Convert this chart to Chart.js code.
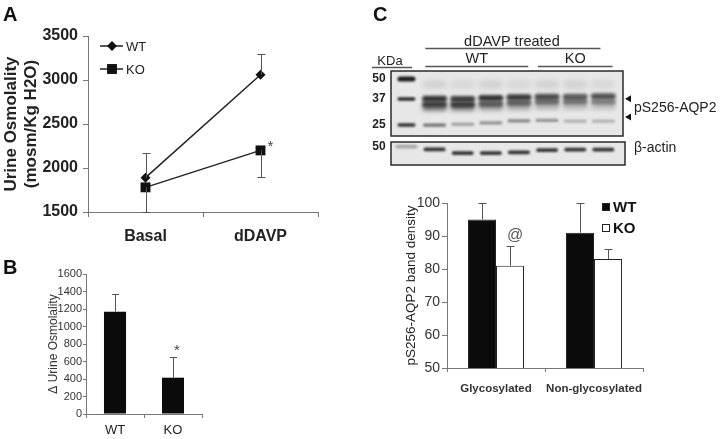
<!DOCTYPE html>
<html>
<head>
<meta charset="utf-8">
<title>Urine osmolality and pS256-AQP2</title>
<script src="https://cdn.jsdelivr.net/npm/chart.js@4.4.1/dist/chart.umd.min.js"></script>
<style>
  html, body { margin: 0; padding: 0; background: #fff; }
  body { width: 720px; height: 439px; position: relative; overflow: hidden; font-family: "Liberation Sans", Arial, sans-serif; }
  canvas { position: absolute; left: 0; top: 0; }
  .tag { position: absolute; font-weight: bold; font-size: 20px; line-height: 20px; color: #111; }
</style>
</head>
<body>
<canvas id="chartA" width="720" height="439"></canvas>
<canvas id="chartB" width="720" height="439"></canvas>
<canvas id="chartC" width="720" height="439"></canvas>
<canvas id="blot" width="720" height="439"></canvas>
<canvas id="actin" width="720" height="439"></canvas>
<div class="tag" style="left:3px;top:4px">A</div>
<div class="tag" style="left:3px;top:257px">B</div>
<div class="tag" style="left:373px;top:4px">C</div>
<script>
// ---- panel A: urine osmolality
const osmoCategories = ["Basal", "dDAVP"];
const osmoWT = [1890, 3060];
const osmoWTErr = [280, 240];
const osmoKO = [1780, 2200];
const osmoKOErr = [280, 300];
const osmoKOMarks = ["", "*"];
const osmoTicks = [1500, 2000, 2500, 3000, 3500];

// ---- panel B: delta urine osmolality
const deltaCategories = ["WT", "KO"];
const deltaValues = [1170, 415];
const deltaErr = [200, 240];
const deltaMarks = ["", "*"];
const deltaTicks = [0, 200, 400, 600, 800, 1000, 1200, 1400, 1600];

// ---- panel C: band density
const densityCategories = ["Glycosylated", "Non-glycosylated"];
const densityWT = [95, 91];
const densityWTErr = [5, 9];
const densityKO = [81, 83];
const densityKOErr = [6, 3];
const densityKOMarks = ["@", ""];
const densityTicks = [50, 60, 70, 80, 90, 100];

// ---- panel C: blot (lane 0 = ladder, lanes 1-4 WT, 5-7 KO)
const sampleLanes = [1, 2, 3, 4, 5, 6, 7];
const markerKDa = [50, 37, 25];
const markerDensity = [0.95, 0.9, 0.85];
const smearKDa = [46, 46, 46, 46, 46, 46, 46];
const smearDensity = [0.1, 0.08, 0.1, 0.08, 0.1, 0.1, 0.08];
const glycoKDa = [37.2, 37, 37.5, 38, 38.3, 38.3, 38.5];
const glycoDensity = [0.85, 0.8, 0.85, 0.82, 0.72, 0.65, 0.7];
const nonGlycoKDa = [34.2, 34, 34.5, 35, 35.5, 35.5, 35.5];
const nonGlycoDensity = [0.75, 0.78, 0.62, 0.6, 0.55, 0.5, 0.45];
const lowerKDa = [32.3, 32.3, 32.5, 32.8, 33, 33, 33];
const lowerDensity = [0.5, 0.45, 0.35, 0.3, 0.25, 0.22, 0.2];
const band25KDa = [25, 25.3, 25.8, 26.6, 26.8, 26.5, 26.5];
const band25Density = [0.55, 0.35, 0.4, 0.45, 0.4, 0.25, 0.25];
const arrowKDa = [37.2, 28.2];
const actinLanes = [0, 1, 2, 3, 4, 5, 6, 7];
const actinLevel = [0.8, 0.68, 0.52, 0.52, 0.55, 0.65, 0.67, 0.67];
const actinDensity = [0.3, 0.85, 0.85, 0.85, 0.85, 0.85, 0.85, 0.85];

const FONT = '"Liberation Sans", Arial, sans-serif';
Chart.defaults.font.family = FONT;
Chart.defaults.color = "#222";
Chart.defaults.animation = false;
Chart.defaults.responsive = false;
Chart.defaults.devicePixelRatio = 1;
Chart.defaults.events = [];
Chart.defaults.plugins.legend.display = false;
Chart.defaults.plugins.tooltip.enabled = false;

const plainNumber = (v) => String(v);

// vertical error bars + significance marks, read from dataset fields
const errorBars = {
  id: "errorBars",
  afterDatasetsDraw(chart) {
    const ctx = chart.ctx;
    const y = chart.scales.y;
    chart.data.datasets.forEach((ds, di) => {
      if (!ds.errors) return;
      const meta = chart.getDatasetMeta(di);
      meta.data.forEach((el, i) => {
        const v = ds.data[i];
        const end = ds.errDown ? v - ds.errors[i] : v + ds.errors[i];
        const yEnd = Math.round(y.getPixelForValue(end)) + 0.5;
        const x = Math.round(el.x) + 0.5;
        const cap = ds.capWidth / 2;
        ctx.save();
        ctx.strokeStyle = ds.errColor;
        ctx.lineWidth = 1;
        ctx.beginPath();
        ctx.moveTo(x, el.y);
        ctx.lineTo(x, yEnd);
        ctx.moveTo(x - cap, yEnd);
        ctx.lineTo(x + cap, yEnd);
        ctx.stroke();
        if (ds.marks && ds.marks[i]) {
          const ax = el.x + ds.markDx;
          const ay = (ds.markAt === "point" ? el.y : yEnd) + ds.markDy;
          ctx.fillStyle = ds.markColor;
          ctx.font = ds.markFont;
          ctx.textAlign = "center";
          ctx.textBaseline = "middle";
          ctx.fillText(ds.marks[i], ax, ay);
        }
        ctx.restore();
      });
    });
  }
};

const osmoLegend = {
  id: "osmoLegend",
  afterDraw(chart) {
    const ctx = chart.ctx;
    const a = chart.chartArea;
    chart.data.datasets.forEach((ds, i) => {
      const y = a.top + 10 + i * 23;
      const x0 = a.left + 12;
      ctx.save();
      ctx.strokeStyle = ds.borderColor;
      ctx.lineWidth = 1.5;
      ctx.beginPath();
      ctx.moveTo(x0, y);
      ctx.lineTo(x0 + 23, y);
      ctx.stroke();
      ctx.fillStyle = ds.pointBackgroundColor;
      Chart.helpers.drawPoint(ctx, { pointStyle: ds.pointStyle, radius: ds.pointRadius, borderWidth: 0, rotation: 0 }, x0 + 12, y);
      ctx.fillStyle = "#222";
      ctx.font = "13px " + FONT;
      ctx.textAlign = "left";
      ctx.textBaseline = "middle";
      ctx.fillText(ds.label, x0 + 26, y + 1);
      ctx.restore();
    });
  }
};

const densityLegend = {
  id: "densityLegend",
  afterDraw(chart) {
    const ctx = chart.ctx;
    const a = chart.chartArea;
    chart.data.datasets.forEach((ds, i) => {
      const y = a.top + 4 + i * 21;
      const x = a.right - 41;
      ctx.save();
      ctx.fillStyle = ds.backgroundColor;
      ctx.strokeStyle = "#222";
      ctx.lineWidth = 1;
      ctx.fillRect(x, y - 4, 8, 8);
      ctx.strokeRect(x + 0.5, y - 3.5, 7, 7);
      ctx.fillStyle = "#111";
      ctx.font = "bold 15px " + FONT;
      ctx.textAlign = "left";
      ctx.textBaseline = "middle";
      ctx.fillText(ds.label, x + 11, y + 1);
      ctx.restore();
    });
  }
};

function fixWidth(w) { return function (s) { s.width = w; }; }
function fixHeight(h) { return function (s) { s.height = h; }; }

// ---------------- chart A
new Chart(document.getElementById("chartA"), {
  type: "line",
  data: {
    labels: osmoCategories,
    datasets: [
      {
        label: "WT", data: osmoWT, borderColor: "#222", borderWidth: 1.5,
        pointStyle: "rectRot", pointRadius: 5, pointBackgroundColor: "#111", pointBorderWidth: 0,
        errors: osmoWTErr, errDown: false, capWidth: 8, errColor: "#555"
      },
      {
        label: "KO", data: osmoKO, borderColor: "#222", borderWidth: 1.5,
        pointStyle: "rect", pointRadius: 7, pointBackgroundColor: "#111", pointBorderWidth: 0,
        errors: osmoKOErr, errDown: true, capWidth: 8, errColor: "#555",
        marks: osmoKOMarks, markAt: "point", markDx: 10, markDy: -4, markColor: "#444", markFont: "15px " + FONT
      }
    ]
  },
  options: {
    layout: { padding: { left: 1, right: 402, top: 36, bottom: 187 } },
    scales: {
      x: {
        offset: true,
        afterFit: fixHeight(40),
        grid: { offset: true, drawOnChartArea: false, tickLength: 5, color: "#777" },
        border: { color: "#777" },
        ticks: { padding: 10, font: { size: 16, weight: "bold" }, color: "#222" }
      },
      y: {
        min: osmoTicks[0], max: osmoTicks[osmoTicks.length - 1],
        afterFit: fixWidth(87),
        grid: { drawOnChartArea: false, tickLength: 5, color: "#777" },
        border: { color: "#777" },
        ticks: { stepSize: osmoTicks[1] - osmoTicks[0], padding: 5, font: { size: 16, weight: "bold" }, color: "#222", callback: plainNumber },
        title: {
          display: true, text: ["Urine Osmolality", "(mosm/Kg H2O)"], padding: 0,
          font: { size: 17, weight: "bold", lineHeight: 1.18 }, color: "#222"
        }
      }
    }
  },
  plugins: [errorBars, osmoLegend]
});

// ---------------- chart B
new Chart(document.getElementById("chartB"), {
  type: "bar",
  data: {
    labels: deltaCategories,
    datasets: [{
      label: "Δ Urine Osmolality", data: deltaValues, backgroundColor: "#0b0b0b",
      categoryPercentage: 1, barPercentage: 0.38,
      errors: deltaErr, errDown: false, capWidth: 7, errColor: "#555",
      marks: deltaMarks, markAt: "cap", markDx: 4, markDy: -7, markColor: "#444", markFont: "15px " + FONT
    }]
  },
  options: {
    layout: { padding: { left: 46, right: 518, top: 274, bottom: 0 } },
    scales: {
      x: {
        afterFit: fixHeight(25),
        grid: { offset: true, drawOnChartArea: false, tickLength: 4, color: "#777" },
        border: { color: "#777" },
        ticks: { padding: 5, font: { size: 13 }, color: "#222" }
      },
      y: {
        min: deltaTicks[0], max: deltaTicks[deltaTicks.length - 1],
        afterFit: fixWidth(40),
        grid: { drawOnChartArea: false, tickLength: 3, color: "#777" },
        border: { color: "#777" },
        ticks: { stepSize: deltaTicks[1] - deltaTicks[0], padding: 1, font: { size: 11 }, color: "#333", callback: plainNumber },
        title: { display: true, text: "Δ Urine Osmolality", padding: 0, font: { size: 12 }, color: "#333" }
      }
    }
  },
  plugins: [errorBars]
});

// ---------------- chart C (densitometry)
new Chart(document.getElementById("chartC"), {
  type: "bar",
  data: {
    labels: densityCategories,
    datasets: [
      {
        label: "WT", data: densityWT, backgroundColor: "#0b0b0b", borderColor: "#222", borderWidth: 1,
        categoryPercentage: 0.572, barPercentage: 1,
        errors: densityWTErr, errDown: false, capWidth: 8, errColor: "#555"
      },
      {
        label: "KO", data: densityKO, backgroundColor: "#ffffff", borderColor: "#222", borderWidth: 1,
        categoryPercentage: 0.572, barPercentage: 1,
        errors: densityKOErr, errDown: false, capWidth: 8, errColor: "#555",
        marks: densityKOMarks, markAt: "cap", markDx: 5, markDy: -11, markColor: "#555", markFont: "16px " + FONT
      }
    ]
  },
  options: {
    layout: { padding: { left: 403, right: 77, top: 203, bottom: 41 } },
    scales: {
      x: {
        afterFit: fixHeight(30),
        grid: { offset: true, drawOnChartArea: false, tickLength: 4, color: "#777" },
        border: { color: "#777" },
        ticks: { padding: 10, autoSkip: false, maxRotation: 0, minRotation: 0, font: { size: 11.5, weight: "bold" }, color: "#333" }
      },
      y: {
        min: densityTicks[0], max: densityTicks[densityTicks.length - 1],
        afterFit: fixWidth(44),
        grid: { drawOnChartArea: false, tickLength: 5, color: "#777" },
        border: { color: "#777" },
        ticks: { stepSize: densityTicks[1] - densityTicks[0], padding: 2, font: { size: 14 }, color: "#333", callback: plainNumber },
        title: { display: true, text: "pS256-AQP2 band density", padding: 0, font: { size: 13.5 }, color: "#222" }
      }
    }
  },
  plugins: [errorBars, densityLegend]
});

// ---------------- blot drawing
function drawBands(chart) {
  const ctx = chart.ctx;
  chart.data.datasets.forEach((ds, di) => {
    const meta = chart.getDatasetMeta(di);
    meta.data.forEach((el, i) => {
      const h = Array.isArray(ds.bandHeight) ? ds.bandHeight[i] : ds.bandHeight;
      ctx.save();
      ctx.filter = "blur(" + ds.blur + "px)";
      ctx.fillStyle = "rgba(20,20,20," + ds.density[i] + ")";
      ctx.beginPath();
      ctx.roundRect(el.x - ds.bandWidth / 2, el.y - h / 2, ds.bandWidth, h, h / 2);
      ctx.fill();
      ctx.restore();
    });
  });
}

const blotPaint = {
  id: "blotPaint",
  beforeDatasetsDraw(chart) {
    const { ctx, chartArea: a } = chart;
    ctx.save();
    ctx.fillStyle = "#e7e7e7";
    ctx.fillRect(a.left, a.top, a.width, a.height);
    ctx.restore();
  },
  afterDatasetsDraw(chart) {
    const { ctx, chartArea: a } = chart;
    ctx.save();
    ctx.beginPath();
    ctx.rect(a.left, a.top, a.width, a.height);
    ctx.clip();
    drawBands(chart);
    ctx.restore();
    ctx.save();
    ctx.strokeStyle = "#2a2a2a";
    ctx.lineWidth = 1.5;
    ctx.strokeRect(a.left, a.top, a.width, a.height);
    ctx.restore();
  }
};

function groupLine(ctx, xs, x1, x2, y) {
  ctx.beginPath();
  ctx.moveTo(xs.getPixelForValue(x1), y);
  ctx.lineTo(xs.getPixelForValue(x2), y);
  ctx.stroke();
}

const blotLabels = {
  id: "blotLabels",
  afterDraw(chart) {
    const ctx = chart.ctx;
    const xs = chart.scales.x;
    const ys = chart.scales.y;
    ctx.save();
    ctx.fillStyle = "#222";
    ctx.strokeStyle = "#555";
    ctx.lineWidth = 1.3;
    // ladder
    ctx.font = "13px " + FONT;
    ctx.textAlign = "center";
    ctx.textBaseline = "middle";
    ctx.fillText("KDa", 390, 61);
    ctx.beginPath();
    ctx.moveTo(372, 67.5);
    ctx.lineTo(412, 67.5);
    ctx.stroke();
    ctx.font = "bold 12px " + FONT;
    markerKDa.forEach(k => ctx.fillText(String(k), 379, ys.getPixelForValue(k)));
    // group headers
    ctx.font = "14.5px " + FONT;
    ctx.fillText("dDAVP treated", xs.getPixelForValue(3.75), 42);
    groupLine(ctx, xs, 0.67, 6.9, 48.5);
    ctx.fillText("WT", xs.getPixelForValue(2.5), 59);
    groupLine(ctx, xs, 0.67, 4.33, 66.5);
    ctx.fillText("KO", xs.getPixelForValue(6), 59);
    groupLine(ctx, xs, 4.67, 7.33, 66.5);
    // arrows
    ctx.fillStyle = "#111";
    arrowKDa.forEach(k => {
      const y = ys.getPixelForValue(k);
      ctx.beginPath();
      ctx.moveTo(625, y);
      ctx.lineTo(631, y - 3.5);
      ctx.lineTo(631, y + 3.5);
      ctx.closePath();
      ctx.fill();
    });
    ctx.fillStyle = "#222";
    ctx.font = "14px " + FONT;
    ctx.textAlign = "left";
    ctx.fillText("pS256-AQP2", 634, (ys.getPixelForValue(arrowKDa[0]) + ys.getPixelForValue(arrowKDa[1])) / 2);
    ctx.restore();
  }
};

function bandSet(label, lanes, kda, density, w, h, blur) {
  return {
    label: label,
    data: lanes.map((l, i) => ({ x: l, y: kda[i] })),
    density: density, bandWidth: w, bandHeight: h, blur: blur
  };
}

new Chart(document.getElementById("blot"), {
  type: "scatter",
  data: {
    datasets: [
      bandSet("ladder", markerKDa.map(() => 0), markerKDa, markerDensity, 18, [5, 3.5, 3.5], 0.8),
      bandSet("smear", sampleLanes, smearKDa, smearDensity, 24, 8, 2.5),
      bandSet("lower", sampleLanes, lowerKDa, lowerDensity, 25, 6, 2),
      bandSet("non-glycosylated", sampleLanes, nonGlycoKDa, nonGlycoDensity, 25, 6, 1.7),
      bandSet("glycosylated", sampleLanes, glycoKDa, glycoDensity, 25, 6, 1.5),
      bandSet("25 kDa", sampleLanes, band25KDa, band25Density, 23, 3.2, 1)
    ]
  },
  options: {
    layout: { padding: { left: 391, right: 97, top: 71, bottom: 303 } },
    elements: { point: { radius: 0 } },
    scales: {
      x: { type: "linear", display: false, min: -0.55, max: 7.7 },
      y: { type: "logarithmic", display: false, min: 21.2, max: 56.4 }
    }
  },
  plugins: [blotPaint, blotLabels]
});

const actinLabels = {
  id: "actinLabels",
  afterDraw(chart) {
    const ctx = chart.ctx;
    const ys = chart.scales.y;
    ctx.save();
    ctx.fillStyle = "#222";
    ctx.textBaseline = "middle";
    ctx.font = "bold 12px " + FONT;
    ctx.textAlign = "center";
    ctx.fillText("50", 379, ys.getPixelForValue(actinLevel[0]));
    ctx.font = "14px " + FONT;
    ctx.textAlign = "left";
    ctx.fillText("β-actin", 634, 148);
    ctx.restore();
  }
};

new Chart(document.getElementById("actin"), {
  type: "scatter",
  data: {
    datasets: [bandSet("β-actin", actinLanes, actinLevel, actinDensity, 22, 3.8, 0.9)]
  },
  options: {
    layout: { padding: { left: 391, right: 95, top: 142, bottom: 274 } },
    elements: { point: { radius: 0 } },
    scales: {
      x: { type: "linear", display: false, min: -0.55, max: 7.77 },
      y: { type: "linear", display: false, min: 0, max: 1 }
    }
  },
  plugins: [blotPaint, actinLabels]
});
</script>
</body>
</html>
